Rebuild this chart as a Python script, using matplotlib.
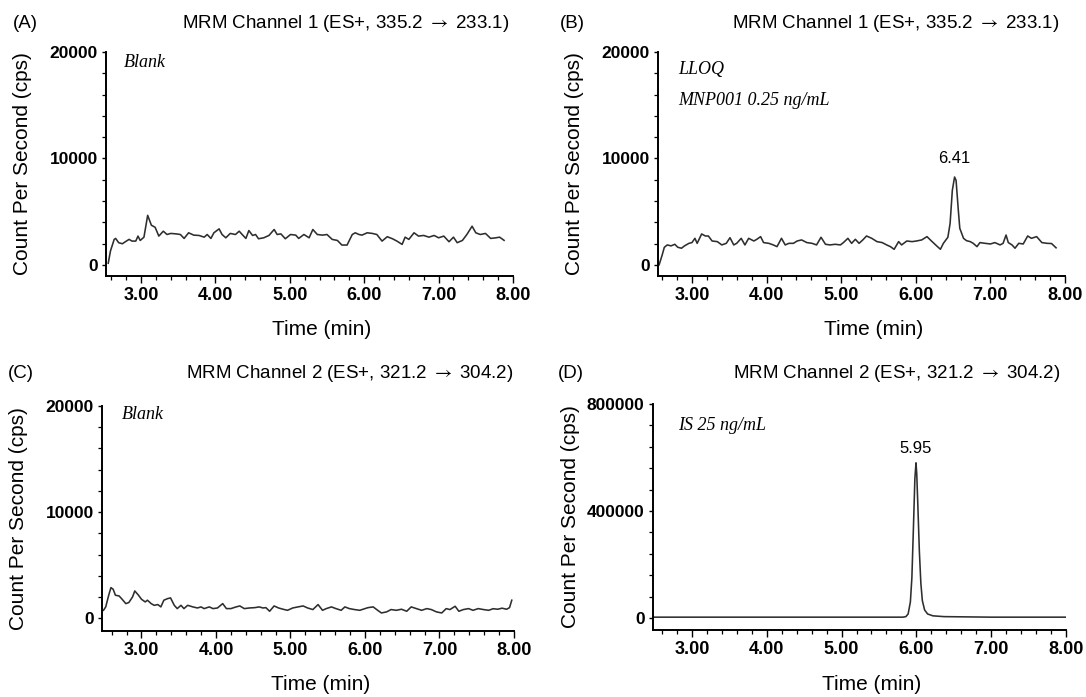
import matplotlib
matplotlib.use("Agg")
import matplotlib.pyplot as plt
from matplotlib.ticker import MultipleLocator, FixedLocator, FormatStrFormatter

plt.rcParams["mathtext.fontset"] = "stix"
SANS = ["Liberation Sans", "DejaVu Sans"]
SERIF = ["Liberation Serif", "DejaVu Serif"]

# ---------------- data (time in min, counts per second) ----------------
a_trace = [(2.56,150),(2.59,1300),(2.64,2390),(2.66,2480),(2.70,2080),(2.75,1980),(2.79,2170),
    (2.84,2390),(2.88,2230),(2.93,2230),(2.96,2700),(2.99,2290),(3.04,2600),(3.09,4650),(3.14,3720),
    (3.19,3530),(3.24,2700),(3.30,3160),(3.35,2850),(3.40,2950),(3.47,2910),(3.53,2850),(3.58,2480),
    (3.64,3010),(3.71,2790),(3.78,2760),(3.85,2600),(3.89,2850),(3.94,2480),(3.98,3010),(4.05,3380),
    (4.09,2850),(4.14,2540),(4.20,2950),(4.27,2850),(4.32,3160),(4.36,2850),(4.41,2480),(4.45,3220),
    (4.50,2760),(4.54,2850),(4.58,2450),(4.65,2540),(4.72,2760),(4.79,3320),(4.83,2850),(4.88,2910),
    (4.94,2450),(5.01,2850),(5.08,2790),(5.12,2480),(5.19,2850),(5.26,2540),(5.31,3320),(5.37,2850),
    (5.44,2790),(5.50,2850),(5.57,2390),(5.64,2290),(5.70,1860),(5.77,1860),(5.84,2850),(5.88,3010),
    (5.93,2850),(5.97,2790),(6.04,3010),(6.11,2950),(6.17,2850),(6.24,2230),(6.31,2640),(6.38,2450),
    (6.44,2230),(6.51,1920),(6.55,2600),(6.60,2390),(6.67,3010),(6.73,2700),(6.80,2760),(6.87,2600),
    (6.94,2760),(7.00,2540),(7.07,2700),(7.14,2170),(7.20,2600),(7.25,2080),(7.32,2290),(7.38,2850),
    (7.45,3630),(7.50,3010),(7.56,2850),(7.63,2950),(7.70,2480),(7.77,2540),(7.82,2600),(7.88,2300)]

b_trace = [(2.56,0),(2.60,900),(2.63,1650),(2.67,1870),(2.72,1780),(2.77,1930),(2.81,1650),
    (2.86,1560),(2.90,1780),(2.96,2020),(3.00,2090),(3.04,2490),(3.07,2020),(3.13,2900),(3.18,2710),
    (3.22,2710),(3.27,2240),(3.34,2180),(3.40,1870),(3.46,2020),(3.51,2550),(3.56,1870),(3.60,2020),
    (3.66,2490),(3.71,1870),(3.76,2490),(3.83,2240),(3.87,2400),(3.92,2650),(3.96,2090),(4.03,2020),
    (4.09,1870),(4.14,1710),(4.20,2490),(4.25,1870),(4.30,2020),(4.36,2020),(4.41,2240),(4.47,2340),
    (4.54,2090),(4.61,2020),(4.67,1870),(4.73,2590),(4.79,1930),(4.85,1870),(4.92,1930),(4.99,1870),
    (5.03,2090),(5.09,2490),(5.14,2020),(5.19,2400),(5.24,2020),(5.29,2340),(5.34,2710),(5.41,2490),
    (5.48,2180),(5.55,2090),(5.61,1870),(5.66,1710),(5.71,1460),(5.77,2180),(5.81,1870),(5.88,2240),
    (5.95,2180),(6.01,2240),(6.08,2340),(6.15,2650),(6.21,2240),(6.28,1780),(6.33,1460),(6.37,2020),
    (6.43,2590),(6.46,3890),(6.49,7010),(6.52,8250),(6.54,7940),(6.57,5140),(6.59,3430),(6.64,2490),
    (6.68,2270),(6.73,2180),(6.77,2020),(6.82,1710),(6.86,2090),(6.93,2020),(7.00,1960),(7.06,2090),
    (7.13,1870),(7.17,2020),(7.21,2800),(7.24,2090),(7.29,1870),(7.33,1560),(7.38,2020),(7.44,1960),
    (7.50,2710),(7.55,2490),(7.62,2650),(7.69,2090),(7.76,2020),(7.82,2000),(7.88,1600)]

c_trace = [(2.49,750),(2.52,1070),(2.56,2170),(2.59,2890),(2.62,2730),(2.65,2170),(2.70,2100),
    (2.74,1790),(2.79,1380),(2.83,1480),(2.88,2010),(2.91,2575),(2.96,2170),(3.00,1790),(3.05,1540),
    (3.08,1700),(3.13,1380),(3.17,1220),(3.22,1290),(3.26,1070),(3.30,1700),(3.35,1850),(3.39,1920),
    (3.44,1220),(3.48,910),(3.53,1220),(3.57,910),(3.62,1220),(3.69,1070),(3.75,970),(3.80,1070),
    (3.84,910),(3.91,1070),(3.96,910),(4.02,970),(4.09,1380),(4.14,910),(4.20,910),(4.27,1070),
    (4.32,1160),(4.38,910),(4.45,970),(4.52,1000),(4.58,1070),(4.63,970),(4.67,1000),(4.72,660),
    (4.78,1160),(4.84,970),(4.90,850),(4.96,750),(5.03,970),(5.10,1070),(5.17,1160),(5.23,970),
    (5.30,820),(5.37,1290),(5.43,750),(5.48,910),(5.55,1070),(5.61,910),(5.68,750),(5.73,1070),
    (5.79,910),(5.86,820),(5.93,750),(6.00,910),(6.04,1000),(6.11,1070),(6.17,750),(6.22,500),
    (6.29,600),(6.35,820),(6.42,750),(6.49,850),(6.56,660),(6.62,1070),(6.69,910),(6.76,750),
    (6.83,910),(6.89,820),(6.96,600),(7.03,500),(7.09,910),(7.14,820),(7.21,1130),(7.26,660),
    (7.32,820),(7.39,910),(7.45,750),(7.52,910),(7.59,820),(7.66,750),(7.72,900),(7.78,850),
    (7.84,950),(7.90,850),(7.94,1000),(7.97,1700)]

d_trace = [(2.49,3000),(3.50,3000),(4.50,3000),(5.50,3000),(5.82,3000),(5.86,5000),(5.89,15000),
    (5.92,60000),(5.94,150000),(5.96,330000),(5.98,520000),(5.995,580000),(6.005,540000),
    (6.02,420000),(6.04,250000),(6.06,130000),(6.08,65000),(6.11,30000),(6.15,15000),(6.22,8000),
    (6.37,5000),(7.00,3000),(8.00,3000)]

panel_tags = ["(A)", "(B)", "(C)", "(D)"]
panel_titles = [r"MRM Channel 1 (ES+, 335.2 $\rightarrow$ 233.1)", r"MRM Channel 1 (ES+, 335.2 $\rightarrow$ 233.1)",
                r"MRM Channel 2 (ES+, 321.2 $\rightarrow$ 304.2)", r"MRM Channel 2 (ES+, 321.2 $\rightarrow$ 304.2)"]
panel_notes = [["Blank"], ["LLOQ", "MNP001 0.25 ng/mL"], ["Blank"], ["IS 25 ng/mL"]]
peak_labels = [None, ("6.41", 6.52, 9300), None, ("5.95", 5.995, 605000)]
y_major = [10000, 10000, 10000, 400000]
y_minor = [2000, 2000, 2000, 80000]
y_top = [20000, 20000, 20000, 800000]
x_ticks = [3, 4, 5, 6, 7, 8]

# ---------------- layout (pixels) ----------------
W, H = 1086, 697
fig = plt.figure(figsize=(W / 100, H / 100), dpi=100)

boxes = [(106, 513, 52, 276), (658, 1065, 52, 276), (102, 514, 406, 631), (653, 1066, 404, 630)]
xlims = [(2.53, 8.0), (2.545, 8.0), (2.47, 8.0), (2.48, 8.0)]
ylows = [-1050, -1050, -1200, -45000]
tag_pos = [(13, 23), (560, 23), (8, 374), (558, 373)]
title_y = [23, 23, 374, 374]
title_shift = [4, 6, 1, 6]
note_pos = [[(0.043, 0.951)], [(0.049, 0.92), (0.049, 0.782)], [(0.049, 0.961)], [(0.06, 0.903)]]
traces = [a_trace, b_trace, c_trace, d_trace]


def fx(px):
    return px / W


def fy(py):
    return 1 - py / H


for i in range(4):
    l, r, t, b = boxes[i]
    ax = fig.add_axes([fx(l), fy(b), (r - l) / W, (b - t) / H])
    tt = [p[0] for p in traces[i]]
    vv = [p[1] for p in traces[i]]
    ax.plot(tt, vv, color="#2e2e2e", lw=1.15, solid_joinstyle="round")
    ax.set_xlim(*xlims[i])
    ax.set_ylim(ylows[i], y_top[i])
    for s in ("top", "right"):
        ax.spines[s].set_visible(False)
    for s in ("left", "bottom"):
        ax.spines[s].set_linewidth(1.4)
        ax.spines[s].set_color("black")
    ax.xaxis.set_major_locator(FixedLocator(x_ticks))
    ax.xaxis.set_minor_locator(MultipleLocator(0.2))
    ax.xaxis.set_major_formatter(FormatStrFormatter("%.2f"))
    ax.yaxis.set_major_locator(MultipleLocator(y_major[i]))
    ax.yaxis.set_minor_locator(MultipleLocator(y_minor[i]))
    ax.yaxis.set_major_formatter(FormatStrFormatter("%d"))
    ax.tick_params(axis="x", which="major", direction="out", length=5, width=1.0, pad=3)
    ax.tick_params(axis="x", which="minor", direction="out", length=3, width=0.9)
    ax.tick_params(axis="y", which="major", direction="out", length=3, width=1.0, pad=3)
    ax.tick_params(axis="y", which="minor", direction="out", length=3, width=0.9)
    for lab in ax.get_xticklabels():
        lab.set_fontfamily(SANS)
        lab.set_fontweight("bold")
        lab.set_fontsize(13)
    for lab in ax.get_yticklabels():
        lab.set_fontfamily(SANS)
        lab.set_fontweight("bold")
        lab.set_fontsize(12.5)
    ax.set_facecolor("none")

    # annotations inside the plot
    for txt, (nx, ny) in zip(panel_notes[i], note_pos[i]):
        ax.text(nx, ny, txt, transform=ax.transAxes, ha="left", va="center",
                family=SERIF, style="italic", fontsize=13)
    if peak_labels[i] is not None:
        lbl, px, py = peak_labels[i]
        ax.text(px, py, lbl, ha="center", va="bottom", family=SANS, fontsize=12)

    # panel tag and title
    fig.text(fx(tag_pos[i][0]), fy(tag_pos[i][1]), panel_tags[i], ha="left", va="center",
             family=SANS, fontsize=13.5)
    fig.text(fx(r - title_shift[i]), fy(title_y[i]), panel_titles[i], ha="right", va="center",
             family=SANS, fontsize=13.5)
    # axis labels
    fig.text(fx(l - 83), fy((t + b) / 2), "Count Per Second (cps)", rotation=90,
             ha="center", va="center", family=SANS, fontsize=15)
    fig.text(fx(l + 0.53 * (r - l)), fy(b + 54), "Time (min)", ha="center", va="center",
             family=SANS, fontsize=15)

fig.savefig("out.png", dpi=100, facecolor="white")
